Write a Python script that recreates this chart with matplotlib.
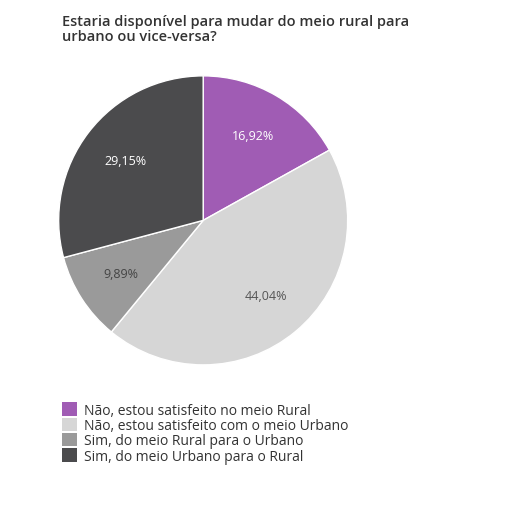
import matplotlib
matplotlib.use("Agg")
import matplotlib.pyplot as plt
from matplotlib.patches import Patch

labels = [
    "Não, estou satisfeito no meio Rural",
    "Não, estou satisfeito com o meio Urbano",
    "Sim, do meio Rural para o Urbano",
    "Sim, do meio Urbano para o Rural",
]
values = [16.92, 44.04, 9.89, 29.15]
colors = ["#a05cb4", "#d6d6d6", "#9a9a9a", "#4b4b4d"]
text_colors = ["white", "#555555", "#444444", "white"]

plt.rcParams["font.family"] = ["Open Sans", "DejaVu Sans"]
fig = plt.figure(figsize=(5.25, 5.06), dpi=100)
fig.patch.set_facecolor("white")

ax = fig.add_axes([0.109, 0.274, 0.556, 0.577])
wedges, _, autotexts = ax.pie(
    values, colors=colors, startangle=90, counterclock=False,
    autopct=lambda p: f"{p:.2f}%".replace(".", ","), pctdistance=0.68,
    wedgeprops=dict(edgecolor="white", linewidth=1),
    textprops=dict(fontsize=9),
)
for t, c in zip(autotexts, text_colors):
    t.set_color(c)
ax.set_xlim(-1.01, 1.01)
ax.set_ylim(-1.01, 1.01)
ax.set_aspect("equal")

fig.text(0.118, 0.97, "Estaria disponível para mudar do meio rural para\nurbano ou vice-versa?",
         fontsize=10.5, color="#333333", fontweight="semibold", va="top", ha="left",
         linespacing=1.05)

handles = [Patch(facecolor=c, edgecolor="none") for c in colors]
fig.legend(handles, labels, loc="upper left", bbox_to_anchor=(0.118, 0.203),
           frameon=False, fontsize=10, handlelength=1.1, handleheight=1.1,
           handletextpad=0.5, labelspacing=0.0, labelcolor="#333333",
           borderaxespad=0, borderpad=0)

fig.savefig("out.png", dpi=100)
